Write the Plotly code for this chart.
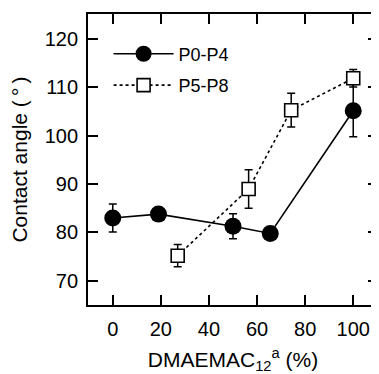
import plotly.graph_objects as go

# P0-P4 series
x_p0 = [0, 19, 50, 65.5, 100]
y_p0 = [83.0, 83.8, 81.3, 79.8, 105.2]
e_p0 = [2.9, 0.0, 2.6, 0.0, 5.4]

# P5-P8 series
x_p5 = [27, 56.5, 74.2, 100]
y_p5 = [75.2, 89.0, 105.3, 111.9]
e_p5 = [2.3, 4.0, 3.5, 1.8]

x_ticks = [0, 20, 40, 60, 80, 100]
y_ticks = [70, 80, 90, 100, 110, 120]

FONT = "Liberation Sans, Arial, sans-serif"

fig = go.Figure()
fig.add_trace(go.Scatter(
    x=x_p0, y=y_p0, name="P0-P4", mode="lines+markers",
    line=dict(color="black", width=1.6),
    marker=dict(symbol="circle", size=17, color="black"),
    error_y=dict(type="data", array=e_p0, color="black", thickness=1.5, width=4),
    legend="legend", showlegend=True,
))
fig.add_trace(go.Scatter(
    x=x_p5, y=y_p5, name="P5-P8", mode="lines+markers",
    line=dict(color="black", width=1.6, dash="dot"),
    marker=dict(symbol="square", size=13, color="white", line=dict(color="black", width=1.6)),
    error_y=dict(type="data", array=e_p5, color="black", thickness=1.5, width=4),
    legend="legend2", showlegend=True,
))

axis_common = dict(
    showline=True, linecolor="black", linewidth=1.8, mirror="ticks",
    ticks="inside", ticklen=10, tickwidth=1.6, tickcolor="black",
    showgrid=False, zeroline=False, automargin=False,
    tickfont=dict(family=FONT, size=20, color="black"),
)

fig.update_layout(
    width=371, height=366,
    margin=dict(l=80, r=1, t=6, b=69),
    showlegend=True,
    paper_bgcolor="white", plot_bgcolor="white",
    font=dict(family=FONT, size=20, color="black"),
    xaxis=dict(range=[-10.3, 110.3], tickvals=x_ticks,
               title=dict(text="DMAEMAC<sub>12</sub><sup>a</sup> (%)", font=dict(size=21)),
               ticklabelstandoff=5, **axis_common),
    yaxis=dict(range=[65, 125.2], tickvals=y_ticks,
               title=dict(text="Contact angle (\u2009°\u2009)", font=dict(size=21)),
               ticklabelstandoff=4, **axis_common),
    legend=dict(x=0.071, y=0.926, xanchor="left", yanchor="top", bgcolor="rgba(0,0,0,0)",
                font=dict(size=18), itemwidth=60),
    legend2=dict(x=0.071, y=0.818, xanchor="left", yanchor="top", bgcolor="rgba(0,0,0,0)",
                 font=dict(size=18), itemwidth=60),
)

fig.write_html("out.html")
